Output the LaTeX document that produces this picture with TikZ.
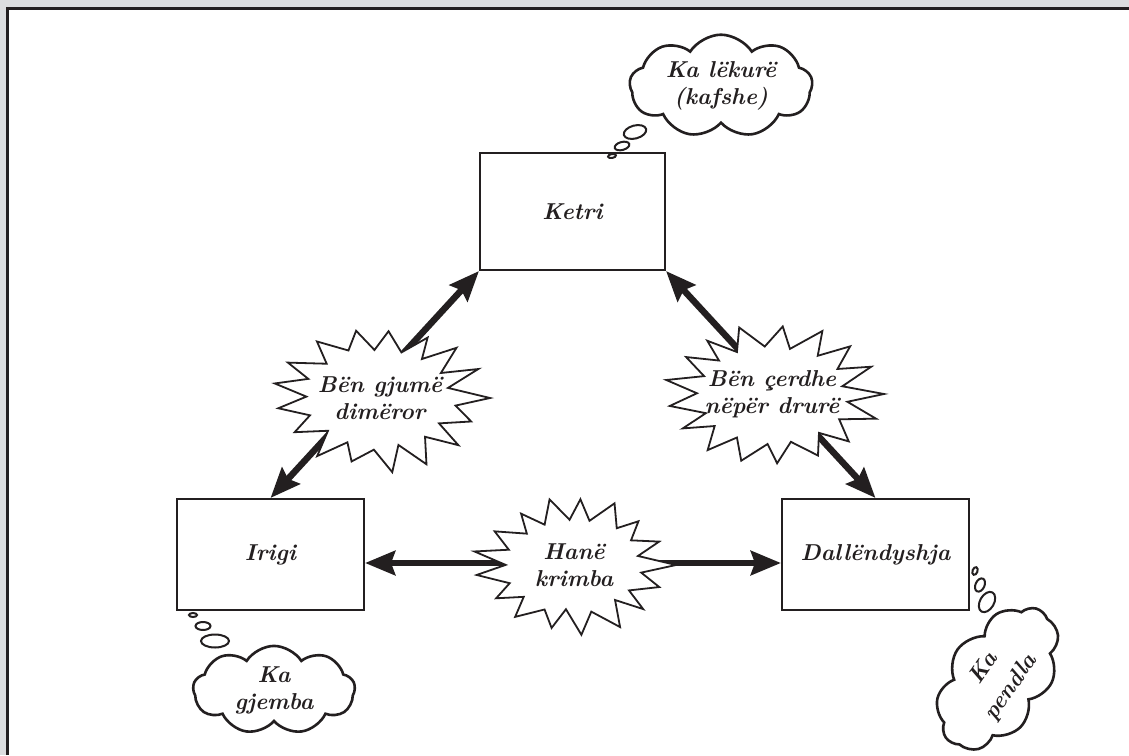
\documentclass[tikz,border=0pt]{standalone}
\usetikzlibrary{shapes.symbols,shapes.geometric,arrows.meta}
\definecolor{framegray}{HTML}{DCDDDF}
\definecolor{ink}{HTML}{231F20}
\pgfdeclarelayer{bottom}
\pgfdeclarelayer{background}
\pgfdeclarelayer{bursts}
\pgfsetlayers{bottom,background,bursts,main}
% jagged outline round a node: #1 node, #2/#3 outer half axes, #4 seed
\newcommand\jagged[4]{%
  \pgfmathsetseed{#4}%
  \draw[burstline] ([shift={(#1.center)}]0:{#2} and {#3})
    \foreach \i [evaluate=\i as \r using {iseven(\i) ? 0.88+0.12*rnd : 0.63+0.07*rnd},
                 evaluate=\i as \a using {\i*360/34+2.5*rand}] in {1,...,33}
      { -- ([shift={(#1.center)}]\a:{#2*\r} and {#3*\r}) } -- cycle;}
\begin{document}
\begin{tikzpicture}[x=1pt,y=-1pt,
  lbl/.style={font=\fontsize{23}{27}\selectfont\bfseries\itshape, align=center, text=ink},
  box/.style={rectangle, draw=ink, line width=2pt, fill=white, lbl},
  burstline/.style={draw=ink, fill=white, line width=1.8pt, line join=miter},
  thought/.style={cloud, cloud puffs=9, cloud puff arc=115, aspect=2,
    draw=ink, line width=2.6pt, fill=white, lbl, inner sep=0pt},
  bubble/.style={draw=ink, line width=2pt, fill=white},
  link/.style={draw=ink, line width=6.5pt,
    {Stealth[length=30pt,width=24pt,inset=4pt]}-{Stealth[length=30pt,width=24pt,inset=4pt]}}
]
\useasboundingbox (0,0) rectangle (1129,755);

% frame
\begin{pgfonlayer}{bottom}
  \fill[framegray] (0,0) rectangle (1129,755);
  \fill[white] (7.5,8.5) rectangle (1129,755);
  \draw[ink, line width=3pt] (7.5,755) -- (7.5,8.5) -- (1129,8.5);
\end{pgfonlayer}

% the three animals
\node[box, minimum width=185pt, minimum height=117pt] (ketri) at (572.5,211.5) {Ketri};
\node[box, minimum width=187pt, minimum height=111pt] (irigi) at (270.5,554.5) {Irigi};
\node[box, minimum width=187pt, minimum height=111pt] (dall) at (875.5,554.5) {Dallëndyshja};

% shared traits
\node[lbl] (b1) at (380,398) {Bën gjumë\\dimëror};
\node[lbl] (b2) at (772,394) {Bën çerdhe\\nëpër drurë};
\node[lbl] (b3) at (574,565) {Hanë\\krimba};
\begin{pgfonlayer}{bursts}
  \jagged{b1}{110}{75}{5}
  \jagged{b2}{112}{74}{9}
  \jagged{b3}{102}{70}{13}
\end{pgfonlayer}

% connectors behind the bursts
\begin{pgfonlayer}{background}
  \draw[link] (irigi.north) -- (ketri.south west);
  \draw[link] (ketri.south east) -- (dall.north);
  \draw[link] ([yshift=-8.5pt]irigi.east) -- ([yshift=-8.5pt]dall.west);
\end{pgfonlayer}

% thoughts
\node[thought, minimum width=183pt, minimum height=88pt] (t1) at (721,86) {Ka lëkurë\\(kafshe)};
\draw[bubble, rotate around={15:(635,132)}] (635,132) ellipse [x radius=11.5pt, y radius=6.5pt];
\draw[bubble, rotate around={15:(622,146)}] (622,146) ellipse [x radius=7.5pt, y radius=4pt];
\draw[bubble, rotate around={10:(612,156)}] (612,156) ellipse [x radius=4pt, y radius=2pt];

\node[thought, minimum width=162pt, minimum height=86pt] (t2) at (274,690) {Ka\\gjemba};
\draw[bubble] (193,615) ellipse [x radius=4pt, y radius=2pt];
\draw[bubble] (203,626) ellipse [x radius=7.5pt, y radius=4pt];
\draw[bubble] (215,641) ellipse [x radius=14pt, y radius=6.5pt];

\node[thought, rotate=55, minimum width=160pt, minimum height=92pt] (t3) at (998,678) {Ka\\[6pt]pendla};
\draw[bubble, rotate around={70:(975,571)}] (975,571) ellipse [x radius=4pt, y radius=2.5pt];
\draw[bubble, rotate around={65:(980,585)}] (980,585) ellipse [x radius=7pt, y radius=4.5pt];
\draw[bubble, rotate around={60:(987,602)}] (987,602) ellipse [x radius=11pt, y radius=7pt];
\end{tikzpicture}
\end{document}
